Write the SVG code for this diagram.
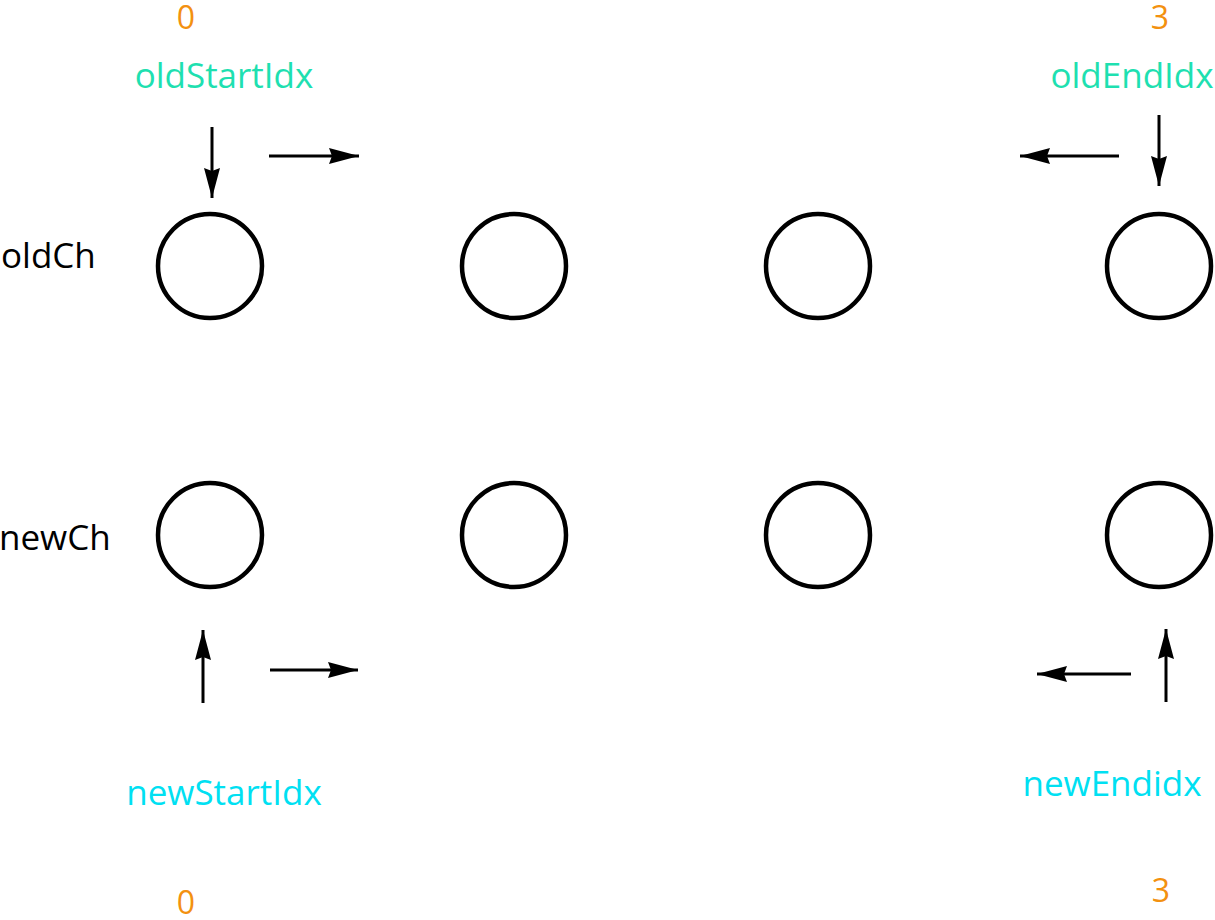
<svg xmlns="http://www.w3.org/2000/svg" width="1215" height="920" viewBox="0 0 1215 920">
<defs>
<style>
.node{fill:none;stroke:#000;stroke-width:4.5}
.t{font-family:"Open Sans","Noto Sans",sans-serif;font-size:35px}
.n{font-family:"Open Sans","Noto Sans",sans-serif;font-size:32px}
.lab{fill:#000}
.old{fill:#1EE0B0}
.new{fill:#00E0F2}
.num{fill:#F39110}
.c line{stroke:#000;stroke-width:3}
</style>
<marker id="ah" viewBox="0 0 30 16" refX="30" refY="8" markerWidth="30" markerHeight="16" markerUnits="userSpaceOnUse" orient="auto">
<path d="M0,0 L30,8 L0,16 L3,8 Z" fill="#000"/>
</marker>
</defs>
<rect width="1215" height="920" fill="#fff"/>
<g id="labels">
<text class="n num" x="186" y="29" text-anchor="middle">0</text>
<text class="t old" x="224" y="88" text-anchor="middle">oldStartIdx</text>
<text class="n num" x="1160" y="29" text-anchor="middle">3</text>
<text class="t old" x="1132" y="88" text-anchor="middle">oldEndIdx</text>
<text class="t lab" x="1" y="268">oldCh</text>
<text class="t lab" x="-1" y="550">newCh</text>
<text class="t new" x="224" y="805" text-anchor="middle">newStartIdx</text>
<text class="t new" x="1112" y="796" text-anchor="middle">newEndidx</text>
<text class="n num" x="186" y="914" text-anchor="middle">0</text>
<text class="n num" x="1161" y="902" text-anchor="middle">3</text>
</g>
<g id="old0"><circle class="node" cx="210" cy="266" r="52"/></g>
<g id="old1"><circle class="node" cx="514" cy="266" r="52"/></g>
<g id="old2"><circle class="node" cx="818" cy="266" r="52"/></g>
<g id="old3"><circle class="node" cx="1159" cy="266" r="52"/></g>
<g id="new0"><circle class="node" cx="210" cy="535" r="52"/></g>
<g id="new1"><circle class="node" cx="514" cy="535" r="52"/></g>
<g id="new2"><circle class="node" cx="818" cy="535" r="52"/></g>
<g id="new3"><circle class="node" cx="1159" cy="535" r="52"/></g>
<g id="connectors" class="c">
<line x1="212" y1="127" x2="212" y2="198" marker-end="url(#ah)"/>
<line x1="269" y1="156" x2="359" y2="156" marker-end="url(#ah)"/>
<line x1="1119" y1="156" x2="1020" y2="156" marker-end="url(#ah)"/>
<line x1="1159" y1="115" x2="1159" y2="186" marker-end="url(#ah)"/>
<line x1="203" y1="703" x2="203" y2="630" marker-end="url(#ah)"/>
<line x1="270" y1="670" x2="358" y2="670" marker-end="url(#ah)"/>
<line x1="1131" y1="674" x2="1037" y2="674" marker-end="url(#ah)"/>
<line x1="1166" y1="702" x2="1166" y2="629" marker-end="url(#ah)"/>
</g>
</svg>
